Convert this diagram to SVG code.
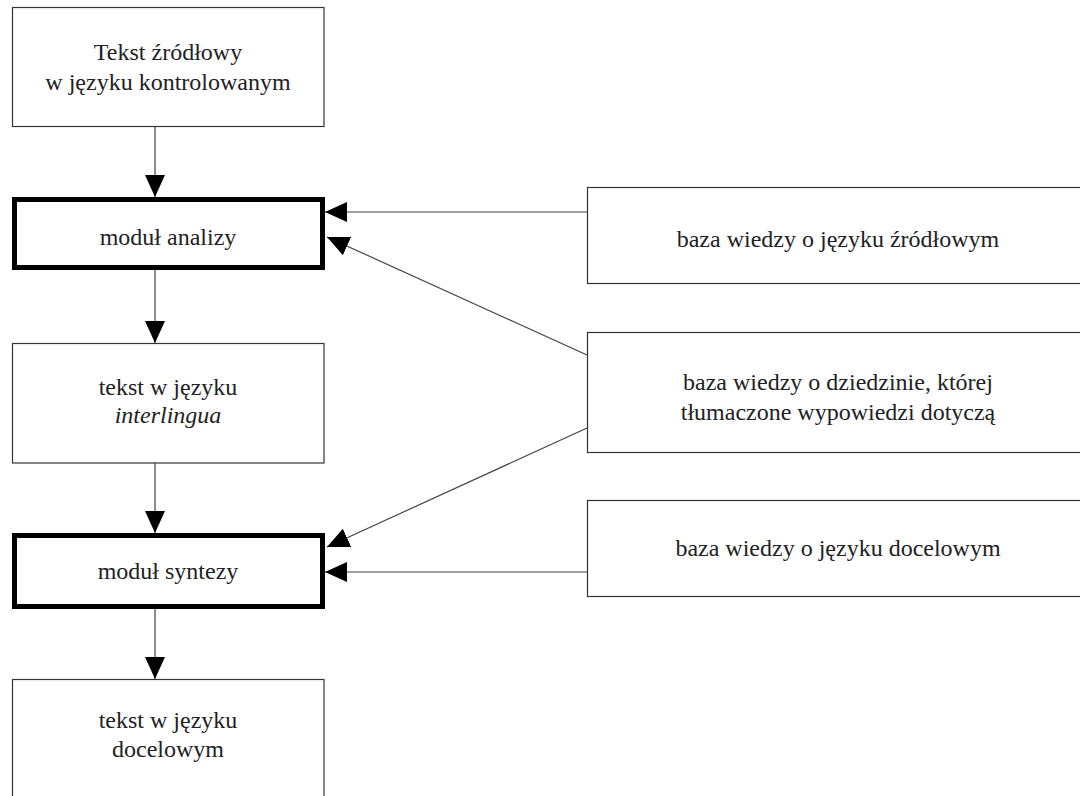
<svg xmlns="http://www.w3.org/2000/svg" width="1080" height="796" viewBox="0 0 1080 796">
<style>
.box{fill:#fff;stroke:#333;stroke-width:1.2}
.thick{fill:#fff;stroke:#000;stroke-width:5}
.t{font-family:"Liberation Serif","Times New Roman","DejaVu Serif",serif;font-size:24px;fill:#222;text-anchor:middle}
.i{font-style:italic}
.c{stroke:#444;stroke-width:1.2;fill:none;marker-end:url(#ah)}
</style>
<defs>
<marker id="ah" markerUnits="userSpaceOnUse" markerWidth="22" markerHeight="20" refX="22" refY="10" orient="auto" viewBox="0 0 22 20">
<path d="M0,0 L22,10 L0,20 z" fill="#000"/>
</marker>
</defs>
<rect width="1080" height="796" fill="#fff"/>
<g id="n1"><rect class="box" x="12.5" y="7.5" width="311.5" height="119"/>
<text class="t" x="168" y="60">Tekst źródłowy</text><text class="t" x="168" y="90">w języku kontrolowanym</text></g>
<g id="n2"><rect class="thick" x="14.5" y="199.5" width="308" height="68"/>
<text class="t" x="168" y="245">moduł analizy</text></g>
<g id="n3"><rect class="box" x="12.5" y="343.5" width="311.5" height="119.5"/>
<text class="t" x="168" y="395">tekst w języku</text><text class="t i" x="168" y="423">interlingua</text></g>
<g id="n4"><rect class="thick" x="14.5" y="535.5" width="308" height="71"/>
<text class="t" x="168" y="579">moduł syntezy</text></g>
<g id="n5"><rect class="box" x="12.5" y="679.5" width="311.5" height="130"/>
<text class="t" x="168" y="728">tekst w języku</text><text class="t" x="168" y="757">docelowym</text></g>
<g id="n6"><rect class="box" x="587.5" y="187.5" width="510" height="96"/>
<text class="t" x="838" y="247">baza wiedzy o języku źródłowym</text></g>
<g id="n7"><rect class="box" x="587.5" y="332.5" width="510" height="120"/>
<text class="t" x="838" y="390">baza wiedzy o dziedzinie, której</text><text class="t" x="838" y="420">tłumaczone wypowiedzi dotyczą</text></g>
<g id="n8"><rect class="box" x="587.5" y="500.5" width="510" height="96"/>
<text class="t" x="838" y="556">baza wiedzy o języku docelowym</text></g>
<g id="connectors">
<line class="c" x1="155" y1="127" x2="155" y2="197"/>
<line class="c" x1="155" y1="270" x2="155" y2="343"/>
<line class="c" x1="155" y1="463" x2="155" y2="533"/>
<line class="c" x1="155" y1="609" x2="155" y2="679"/>
<line class="c" x1="587" y1="212" x2="325" y2="212"/>
<line class="c" x1="587" y1="355" x2="327" y2="237"/>
<line class="c" x1="587" y1="428" x2="327" y2="547"/>
<line class="c" x1="587" y1="572" x2="325" y2="572"/>
</g>
</svg>
